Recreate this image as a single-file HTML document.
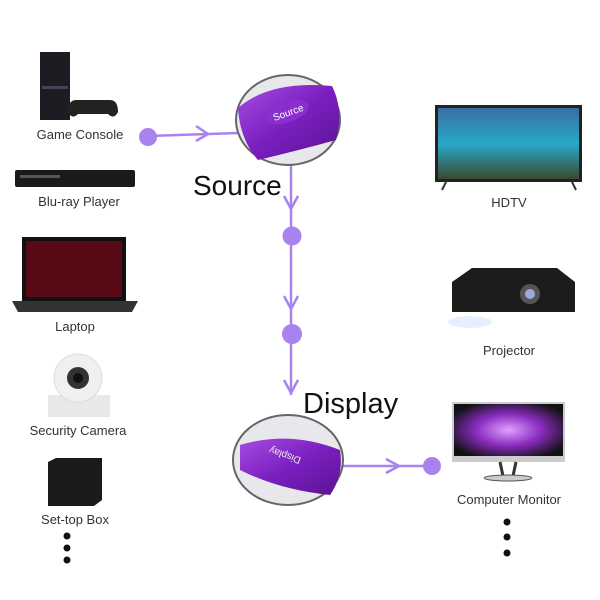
<!DOCTYPE html>
<html><head><style>body{margin:0;background:#fff}svg{display:block}text{font-family:"Liberation Sans",sans-serif}</style></head><body>
<svg width="600" height="600" viewBox="0 0 600 600">
<defs>
<linearGradient id="pur" x1="0" y1="0" x2="1" y2="1"><stop offset="0" stop-color="#a64ce0"/><stop offset="0.5" stop-color="#7a1fc0"/><stop offset="1" stop-color="#5a1490"/></linearGradient>
<linearGradient id="sky" x1="0" y1="0" x2="0" y2="1"><stop offset="0" stop-color="#3a6ea0"/><stop offset="0.5" stop-color="#28a8c8"/><stop offset="1" stop-color="#3a4a30"/></linearGradient>
<radialGradient id="flw" cx="0.5" cy="0.5" r="0.6"><stop offset="0" stop-color="#e0a0ff"/><stop offset="0.5" stop-color="#8a2cc0"/><stop offset="1" stop-color="#111"/></radialGradient>
</defs>
<g stroke="#a882ee" stroke-width="2.5" fill="none">
<line x1="148" y1="136" x2="238" y2="133"/>
<polyline points="196,126 208,134 196,141"/>
<line x1="291" y1="165" x2="291" y2="395"/>
<polyline points="284,196 291,209 298,196"/>
<polyline points="284,296 291,309 298,296"/>
<polyline points="284,380 291,393 298,380"/>
<line x1="343" y1="466" x2="432" y2="466"/>
<polyline points="386,459 399,466 386,473"/>
</g>
<g fill="#a882ee">
<circle cx="148" cy="137" r="9"/><circle cx="292" cy="236" r="9.5"/><circle cx="292" cy="334" r="10"/><circle cx="432" cy="466" r="9"/>
</g>
<ellipse cx="288" cy="120" rx="52" ry="45" fill="#e8e8ec" stroke="#666" stroke-width="2"/>
<path d="M238,108 Q270,80 332,86 Q344,110 336,140 Q300,150 258,160 Q240,140 238,108Z" fill="url(#pur)"/>
<ellipse cx="288" cy="112" rx="22" ry="10" fill="#8a2ed0" transform="rotate(-20 288 112)"/>
<text x="288" y="116" font-size="10" fill="#fff" text-anchor="middle" transform="rotate(-20 288 112)">Source</text>
<ellipse cx="288" cy="460" rx="55" ry="45" fill="#e8e8ec" stroke="#666" stroke-width="2"/>
<path d="M240,445 Q290,430 340,450 Q344,475 330,495 Q280,490 240,470Z" fill="url(#pur)"/>
<text x="285" y="458" font-size="10" fill="#eee" text-anchor="middle" transform="rotate(200 285 455)">Display</text>
<text x="193" y="195" font-size="28" fill="#111" font-family="DejaVu Sans">Source</text>
<text x="303" y="413" font-size="29" fill="#111" font-family="DejaVu Sans">Display</text>
<rect x="40" y="52" width="30" height="68" fill="#1c1c22"/><rect x="42" y="86" width="26" height="3" fill="#445"/>
<path d="M76,100 h34 q8,0 8,12 q-4,8 -10,2 h-30 q-6,6 -10,-2 q0,-12 8,-12Z" fill="#222"/>
<text x="80" y="139" font-size="13" text-anchor="middle" fill="#333">Game Console</text>
<rect x="15" y="170" width="120" height="17" rx="2" fill="#1a1a1a"/><rect x="20" y="175" width="40" height="3" fill="#555"/>
<text x="79" y="206" font-size="13" text-anchor="middle" fill="#333">Blu-ray Player</text>
<rect x="22" y="237" width="104" height="64" fill="#111"/><rect x="26" y="241" width="96" height="56" fill="#5a0a14"/>
<path d="M12,301 h126 l-6,11 h-114Z" fill="#333"/>
<text x="75" y="331" font-size="13" text-anchor="middle" fill="#333">Laptop</text>
<path d="M48,395 h62 v22 h-62Z" fill="#e8e8e8"/><circle cx="78" cy="378" r="24" fill="#f0f0f0" stroke="#ddd"/><circle cx="78" cy="378" r="11" fill="#333"/><circle cx="78" cy="378" r="5" fill="#111"/>
<text x="78" y="435" font-size="13" text-anchor="middle" fill="#333">Security Camera</text>
<path d="M48,462 l8,-4 h46 v42 l-8,6 h-46Z" fill="#1a1a1a"/>
<text x="75" y="524" font-size="13" text-anchor="middle" fill="#333">Set-top Box</text>
<g fill="#111"><circle cx="67" cy="536" r="3.5"/><circle cx="67" cy="548" r="3.5"/><circle cx="67" cy="560" r="3.5"/></g>
<rect x="435" y="105" width="147" height="77" fill="#222"/><rect x="438" y="108" width="141" height="71" fill="url(#sky)"/>
<path d="M442,190 l4,-8 M576,190 l-4,-8" stroke="#333" stroke-width="2"/>
<text x="509" y="207" font-size="13" text-anchor="middle" fill="#333">HDTV</text>
<path d="M452,282 l20,-14 h85 l18,14 v30 h-123Z" fill="#1c1c1c"/><circle cx="530" cy="294" r="10" fill="#555"/><circle cx="530" cy="294" r="5" fill="#9ad"/>
<ellipse cx="470" cy="322" rx="22" ry="6" fill="#dde8ff" opacity="0.7"/>
<text x="509" y="355" font-size="13" text-anchor="middle" fill="#333">Projector</text>
<rect x="452" y="402" width="113" height="60" fill="#ccc"/><rect x="454" y="404" width="109" height="52" fill="url(#flw)"/>
<path d="M500,462 l3,14 M516,462 l-3,14" stroke="#333" stroke-width="3"/><ellipse cx="508" cy="478" rx="24" ry="3" fill="#ccc" stroke="#555"/>
<text x="509" y="504" font-size="13" text-anchor="middle" fill="#333">Computer Monitor</text>
<g fill="#111"><circle cx="507" cy="522" r="3.5"/><circle cx="507" cy="537" r="3.5"/><circle cx="507" cy="553" r="3.5"/></g>
</svg>
</body></html>
